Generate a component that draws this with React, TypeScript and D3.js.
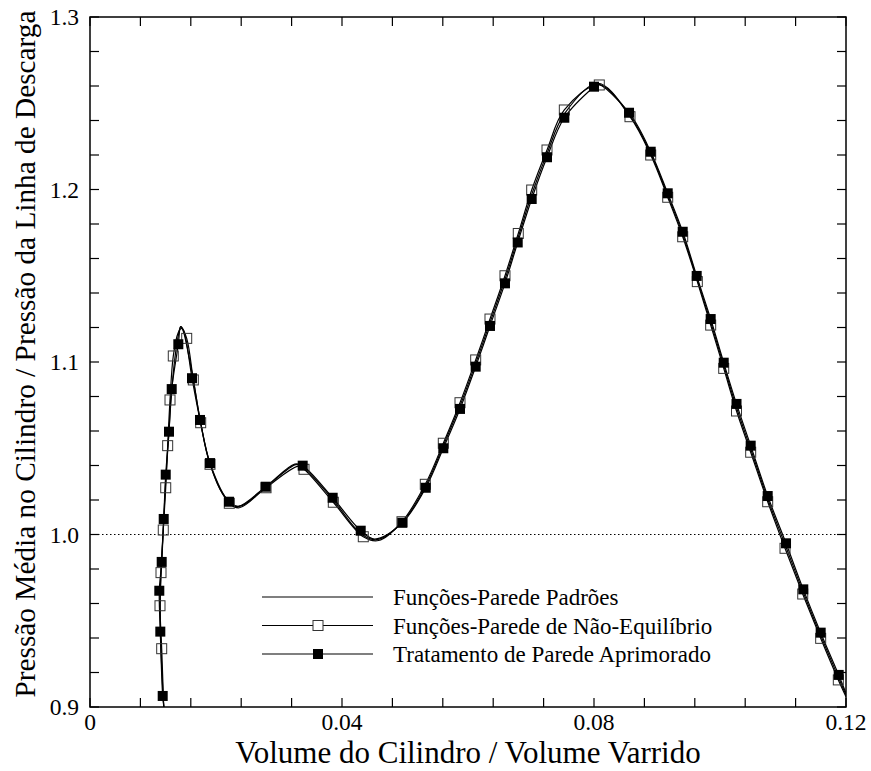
import React from "react";
import * as d3 from "d3";

// Filled squares: Tratamento de Parede Aprimorado
const aprimoradoX = [0.01154,0.01116,0.01100,0.01138,0.01170,0.01202,0.01254,0.01297,0.01402,0.01619,0.01746,0.01905,0.02206,0.02789,0.03376,0.03852,0.04297,0.04957,0.05329,0.05608,0.05873,0.06122,0.06349,0.06587,0.06789,0.07011,0.07254,0.07529,0.08000,0.08556,0.08900,0.09170,0.09408,0.09630,0.09852,0.10059,0.10262,0.10487,0.10757,0.11048,0.11322,0.11598,0.11884];
const aprimoradoY = [0.9064,0.9437,0.9674,0.9841,1.0090,1.0347,1.0596,1.0843,1.1103,1.0906,1.0664,1.0414,1.0190,1.0277,1.0399,1.0213,1.0022,1.0068,1.0271,1.0500,1.0728,1.0973,1.1209,1.1456,1.1693,1.1945,1.2187,1.2416,1.2596,1.2445,1.2219,1.1978,1.1755,1.1499,1.1249,1.0996,1.0757,1.0515,1.0223,0.9949,0.9682,0.9431,0.9186];

// Open squares: Funções-Parede de Não-Equilíbrio
const naoEqX = [0.01138,0.01111,0.01127,0.01163,0.01202,0.01233,0.01270,0.01322,0.01535,0.01640,0.01757,0.01905,0.02211,0.02794,0.03397,0.03862,0.04338,0.04952,0.05322,0.05608,0.05873,0.06122,0.06349,0.06587,0.06798,0.07011,0.07254,0.07529,0.08084,0.08571,0.08900,0.09170,0.09408,0.09640,0.09852,0.10059,0.10262,0.10487,0.10757,0.11032,0.11313,0.11598,0.11878];
const naoEqY = [0.9338,0.9587,0.9779,1.0026,1.0271,1.0515,1.0780,1.1035,1.1137,1.0896,1.0648,1.0407,1.0181,1.0271,1.0378,1.0187,0.9987,1.0074,1.0291,1.0529,1.0764,1.1012,1.1249,1.1500,1.1745,1.1997,1.2229,1.2461,1.2606,1.2422,1.2200,1.1955,1.1726,1.1466,1.1214,1.0963,1.0716,1.0477,1.0190,0.9920,0.9655,0.9398,0.9157];

// Curve points, for the three lines
const aprimoradoLineX = [0.01175,0.01154,0.01116,0.01100,0.01138,0.01170,0.01202,0.01254,0.01297,0.01402,0.01440,0.01490,0.01619,0.01746,0.01905,0.02206,0.02350,0.02789,0.03250,0.03376,0.03852,0.04297,0.04520,0.04957,0.05329,0.05608,0.05873,0.06122,0.06349,0.06587,0.06789,0.07011,0.07254,0.07529,0.08000,0.08060,0.08556,0.08900,0.09170,0.09408,0.09630,0.09852,0.10059,0.10262,0.10487,0.10757,0.11048,0.11322,0.11598,0.11884,0.12000];
const aprimoradoLineY = [0.9000,0.9064,0.9437,0.9674,0.9841,1.0090,1.0347,1.0596,1.0843,1.1103,1.1205,1.1180,1.0906,1.0664,1.0414,1.0190,1.0163,1.0277,1.0408,1.0399,1.0213,1.0022,0.9974,1.0068,1.0271,1.0500,1.0728,1.0973,1.1209,1.1456,1.1693,1.1945,1.2187,1.2416,1.2596,1.2612,1.2445,1.2219,1.1978,1.1755,1.1499,1.1249,1.0996,1.0757,1.0515,1.0223,0.9949,0.9682,0.9431,0.9186,0.9080];

const naoEqLineX = [0.01170,0.01138,0.01111,0.01127,0.01163,0.01202,0.01233,0.01270,0.01322,0.01400,0.01455,0.01535,0.01640,0.01757,0.01905,0.02211,0.02370,0.02794,0.03300,0.03397,0.03862,0.04338,0.04580,0.04952,0.05322,0.05608,0.05873,0.06122,0.06349,0.06587,0.06798,0.07011,0.07254,0.07529,0.08084,0.08571,0.08900,0.09170,0.09408,0.09640,0.09852,0.10059,0.10262,0.10487,0.10757,0.11032,0.11313,0.11598,0.11878,0.12000];
const naoEqLineY = [0.9000,0.9338,0.9587,0.9779,1.0026,1.0271,1.0515,1.0780,1.1035,1.1170,1.1195,1.1137,1.0896,1.0648,1.0407,1.0181,1.0155,1.0271,1.0395,1.0378,1.0187,0.9987,0.9965,1.0074,1.0291,1.0529,1.0764,1.1012,1.1249,1.1500,1.1745,1.1997,1.2229,1.2461,1.2606,1.2422,1.2200,1.1955,1.1726,1.1466,1.1214,1.0963,1.0716,1.0477,1.0190,0.9920,0.9655,0.9398,0.9157,0.9060];

const padroesLineX = [0.01170,0.01120,0.01115,0.01130,0.01165,0.01200,0.01245,0.01290,0.01340,0.01400,0.01440,0.01480,0.01560,0.01640,0.01750,0.01905,0.02100,0.02350,0.02790,0.03270,0.03380,0.03860,0.04300,0.04550,0.04955,0.05325,0.05608,0.05873,0.06122,0.06349,0.06587,0.06795,0.07011,0.07254,0.07529,0.08060,0.08560,0.08900,0.09170,0.09408,0.09635,0.09852,0.10059,0.10262,0.10487,0.10757,0.11040,0.11318,0.11598,0.11880,0.12000];
const padroesLineY = [0.9000,0.9400,0.9600,0.9800,1.0050,1.0300,1.0550,1.0800,1.1000,1.1150,1.1205,1.1180,1.1050,1.0900,1.0660,1.0410,1.0240,1.0162,1.0275,1.0405,1.0392,1.0200,1.0005,0.9970,1.0070,1.0280,1.0515,1.0746,1.0992,1.1229,1.1478,1.1720,1.1971,1.2208,1.2438,1.2616,1.2434,1.2210,1.1966,1.1740,1.1482,1.1231,1.0980,1.0736,1.0496,1.0206,0.9935,0.9668,0.9414,0.9172,0.9070];

const xTickLabels = ["0", "0.04", "0.08", "0.12"];
const yTickLabels = ["0.9", "1.0", "1.1", "1.2", "1.3"];
const legendLabels = ["Funções-Parede Padrões", "Funções-Parede de Não-Equilíbrio", "Tratamento de Parede Aprimorado"];

const W = 871, H = 771;
const L = 90, R = 846, T = 17, B = 707;
const txt = (size: number): React.CSSProperties => ({ fontFamily: '"Liberation Serif"', fontSize: size + "px" });

export default function App() {
  const x = d3.scaleLinear().domain([0, 0.12]).range([L, R]);
  const y = d3.scaleLinear().domain([0.9, 1.3]).range([B, T]);
  const line = d3.line<[number, number]>().x(d => x(d[0])).y(d => y(d[1])).curve(d3.curveCatmullRom.alpha(0.5));
  const zip = (a: number[], b: number[]) => a.map((v, i) => [v, b[i]] as [number, number]);

  const xTicks = d3.range(0, 17).map(i => i * 0.008);
  const yTicks = d3.range(0, 21).map(i => 0.9 + i * 0.02);
  const tickLen = 9;
  const ms = 10;

  return (
    <svg width={W} height={H} style={{ position: "absolute", left: 0, top: 0, background: "#fff" }}>
      <defs>
        <clipPath id="plotclip"><rect x={L} y={T} width={R - L} height={B - T} /></clipPath>
      </defs>
      <rect x={0} y={0} width={W} height={H} fill="#fff" />
      <line x1={L} x2={R} y1={y(1.0)} y2={y(1.0)} stroke="#000" strokeWidth={1} strokeDasharray="1.5,2.5" />
      <g clipPath="url(#plotclip)" fill="none" stroke="#000" strokeWidth={1.2}>
        <path d={line(zip(padroesLineX, padroesLineY)) || ""} />
        <path d={line(zip(naoEqLineX, naoEqLineY)) || ""} />
        <path d={line(zip(aprimoradoLineX, aprimoradoLineY)) || ""} />
      </g>
      <g>
        {naoEqX.map((v, i) => (
          <rect key={"o" + i} x={x(v) - ms / 2} y={y(naoEqY[i]) - ms / 2} width={ms} height={ms} fill="none" stroke="#333" strokeWidth={1} />
        ))}
        {aprimoradoX.map((v, i) => (
          <rect key={"f" + i} x={x(v) - ms / 2} y={y(aprimoradoY[i]) - ms / 2} width={ms} height={ms} fill="#000" />
        ))}
      </g>
      <rect x={L} y={T} width={R - L} height={B - T} fill="none" stroke="#000" strokeWidth={1.5} />
      {xTicks.map((t, i) => (
        <g key={"xt" + i} stroke="#000" strokeWidth={1.2}>
          <line x1={x(t)} x2={x(t)} y1={B} y2={B - tickLen} />
          <line x1={x(t)} x2={x(t)} y1={T} y2={T + tickLen} />
        </g>
      ))}
      {yTicks.map((t, i) => (
        <g key={"yt" + i} stroke="#000" strokeWidth={1.2}>
          <line x1={L} x2={L + tickLen} y1={y(t)} y2={y(t)} />
          <line x1={R} x2={R - tickLen} y1={y(t)} y2={y(t)} />
        </g>
      ))}
      {xTickLabels.map((s, i) => (
        <text key={"xl" + i} x={x(+s)} y={730} style={txt(23.5)} textAnchor="middle" fill="#000">{s}</text>
      ))}
      {yTickLabels.map((s, i) => (
        <text key={"yl" + i} x={79} y={y(+s) + 8} style={txt(23.5)} textAnchor="end" fill="#000">{s}</text>
      ))}
      <text x={468} y={763} style={txt(31)} textAnchor="middle" fill="#000">Volume do Cilindro / Volume Varrido</text>
      <text transform={`translate(35, 354) rotate(-90)`} style={txt(29.3)} textAnchor="middle" fill="#000">Pressão Média no Cilindro / Pressão da Linha de Descarga</text>
      {legendLabels.map((s, i) => {
        const ly = 597 + i * 28.5;
        return (
          <g key={"lg" + i}>
            <line x1={262} x2={373} y1={ly} y2={ly} stroke="#000" strokeWidth={1.2} />
            {i === 1 && <rect x={318 - ms / 2} y={ly - ms / 2} width={ms} height={ms} fill="#fff" stroke="#333" strokeWidth={1} />}
            {i === 2 && <rect x={318 - ms / 2} y={ly - ms / 2} width={ms} height={ms} fill="#000" />}
            <text x={393} y={ly + 8} style={txt(23)} fill="#000">{s}</text>
          </g>
        );
      })}
    </svg>
  );
}
